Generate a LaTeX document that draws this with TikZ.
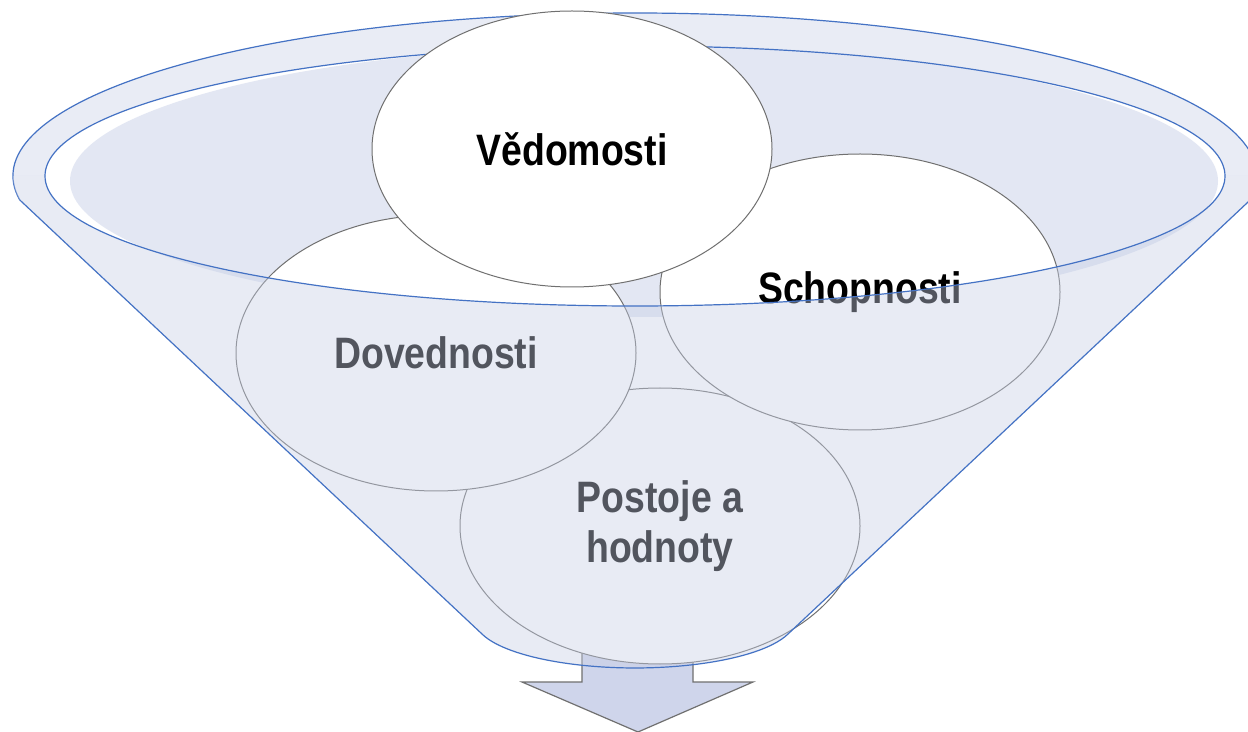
\documentclass[tikz,border=0pt]{standalone}
\usepackage{fontspec}
\newfontfamily\lblfont[FakeStretch=0.85]{Liberation Sans}
\usetikzlibrary{shapes.geometric}
\definecolor{rimblue}{RGB}{68,114,196}
\definecolor{bandfill}{RGB}{233,236,245}
\definecolor{innerfill}{RGB}{227,231,243}
\definecolor{veil}{RGB}{200,208,230}
\definecolor{outl}{RGB}{112,112,112}
\definecolor{arrowfill}{RGB}{207,213,235}
\begin{document}
\begin{tikzpicture}[x=0.5pt,y=-0.5pt,
  bubble/.style={ellipse, draw=outl, line width=0.5pt, fill=white,
    minimum width=200pt, minimum height=138pt, inner sep=0pt,
    font=\lblfont\bfseries\fontsize{22}{25}\selectfont, align=center, text=black},
  rim/.style={draw=rimblue, line width=0.6pt},
  veilfill/.style={fill=veil, fill opacity=0.41},
  arrowshape/.style={draw=outl, fill=arrowfill, line width=0.6pt, line join=miter}
]
\useasboundingbox[fill=white] (0,0) rectangle (1248,732);

% named reference points
\coordinate (OL) at (13,176);
\coordinate (OR) at (1257,176);
\coordinate (IL) at (45,176);
\coordinate (IR) at (1225,176);
\coordinate (CL) at (19.8,200);
\coordinate (CR) at (1250.2,200);
\coordinate (BL) at (482,634);
\coordinate (BR) at (788,634);

% back rim band
\fill[bandfill] (OL) arc[start angle=180, end angle=360, x radius=622, y radius=163]
  -- (IR) arc[start angle=0, end angle=-180, x radius=590, y radius=130] -- cycle;
% inner shading of the funnel mouth
\fill[innerfill] (644,181) ellipse [x radius=574, y radius=136];
% back lines
\draw[rim] (CL) arc[start angle=171.53, end angle=368.47, x radius=622, y radius=163];
\draw[rim] (IL) arc[start angle=180, end angle=360, x radius=590, y radius=130];

% down arrow
\draw[arrowshape] (582,620) -- (582,682) -- (522,682) -- (638,732) -- (753,682) -- (693,682) -- (693,620) -- cycle;

% bubbles
\node[bubble] (pos) at (660,526) {Postoje a\\hodnoty};
\node[bubble] (dov) at (436,353) {Dovednosti};
\node[bubble] (sch) at (860,292) {Schopnosti};
\node[bubble] (ved) at (572,149) {Vědomosti};

% front veil of the funnel
\fill[veilfill] (OL) -- (IL) arc[start angle=180, end angle=0, x radius=590, y radius=130]
  -- (OR) arc[start angle=0, end angle=8.47, x radius=622, y radius=163]
  -- (BR) arc[start angle=17, end angle=163, x radius=160, y radius=48]
  -- (CL) arc[start angle=171.53, end angle=180, x radius=622, y radius=163] -- cycle;

% front lines
\draw[rim] (IL) arc[start angle=180, end angle=0, x radius=590, y radius=130];
\draw[rim] (CL) -- (BL) arc[start angle=163, end angle=17, x radius=160, y radius=48] -- (CR);
\end{tikzpicture}
\end{document}
